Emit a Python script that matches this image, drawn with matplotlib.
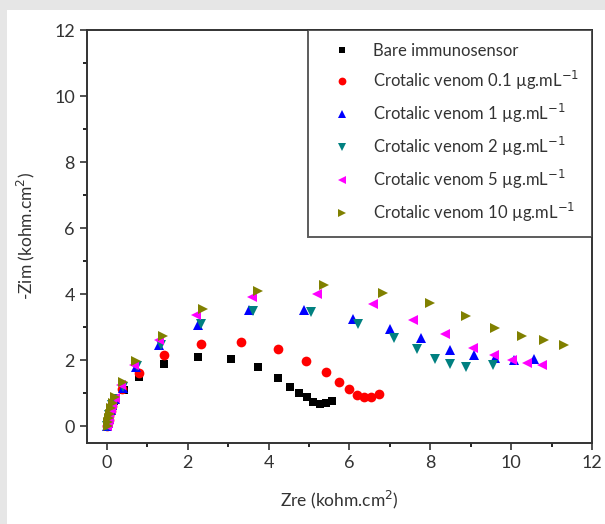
import matplotlib
matplotlib.use('Agg')
import matplotlib.pyplot as plt
from matplotlib.patches import Rectangle
from matplotlib.ticker import MultipleLocator

plt.rcParams['font.family'] = ['Lato', 'DejaVu Sans']
plt.rcParams['mathtext.fontset'] = 'dejavusans'

# Nyquist data (kohm.cm2)
bare_x = [0.01, 0.02, 0.04, 0.06, 0.09, 0.13, 0.18, 0.43, 0.80, 1.42, 2.25, 3.08, 3.75,
          4.23, 4.54, 4.75, 4.94, 5.10, 5.27, 5.42, 5.58]
bare_y = [0.00, 0.08, 0.18, 0.30, 0.45, 0.60, 0.78, 1.09, 1.50, 1.90, 2.10, 2.04, 1.79,
          1.46, 1.19, 1.02, 0.89, 0.75, 0.67, 0.69, 0.77]

v01_x = [0.01, 0.02, 0.04, 0.06, 0.09, 0.13, 0.18, 0.38, 0.80, 1.42, 2.33, 3.32, 4.23,
         4.92, 5.42, 5.74, 6.00, 6.19, 6.37, 6.54, 6.74]
v01_y = [0.00, 0.09, 0.20, 0.32, 0.47, 0.62, 0.80, 1.12, 1.60, 2.15, 2.49, 2.55, 2.33,
         1.97, 1.63, 1.34, 1.12, 0.96, 0.89, 0.89, 0.97]

v1_x = [0.01, 0.02, 0.04, 0.06, 0.09, 0.13, 0.19, 0.40, 0.72, 1.30, 2.25, 3.51, 4.87,
        6.10, 7.00, 7.77, 8.48, 9.07, 9.59, 10.08, 10.56]
v1_y = [0.00, 0.10, 0.21, 0.33, 0.48, 0.64, 0.82, 1.15, 1.80, 2.45, 3.08, 3.52, 3.52,
        3.26, 2.96, 2.66, 2.30, 2.15, 2.07, 2.02, 2.05]

v2_x = [0.01, 0.02, 0.04, 0.06, 0.09, 0.13, 0.19, 0.41, 0.75, 1.34, 2.33, 3.61, 5.04,
        6.22, 7.10, 7.68, 8.12, 8.48, 8.89, 9.55]
v2_y = [0.00, 0.10, 0.22, 0.34, 0.49, 0.65, 0.83, 1.18, 1.82, 2.45, 3.11, 3.49, 3.46,
        3.11, 2.66, 2.35, 2.05, 1.88, 1.80, 1.85]

v5_x = [0.01, 0.02, 0.04, 0.06, 0.09, 0.13, 0.19, 0.35, 0.68, 1.30, 2.20, 3.60, 5.20,
        6.58, 7.58, 8.37, 9.06, 9.57, 10.02, 10.40, 10.77]
v5_y = [0.00, 0.11, 0.23, 0.36, 0.51, 0.68, 0.86, 1.25, 1.85, 2.60, 3.38, 3.92, 4.02,
        3.69, 3.23, 2.79, 2.38, 2.17, 2.02, 1.92, 1.87]

v10_x = [0.02, 0.03, 0.05, 0.07, 0.10, 0.14, 0.20, 0.39, 0.72, 1.38, 2.37, 3.74, 5.37,
         6.84, 8.00, 8.89, 9.59, 10.26, 10.81, 11.31]
v10_y = [0.00, 0.12, 0.25, 0.38, 0.54, 0.71, 0.89, 1.34, 1.98, 2.73, 3.54, 4.10, 4.27,
         4.05, 3.72, 3.33, 2.98, 2.74, 2.61, 2.45]

series = [
    (bare_x, bare_y, 's', 'black', 6, 'Bare immunosensor'),
    (v01_x, v01_y, 'o', '#ff0000', 7, 'Crotalic venom 0.1 µg.mL$^{-1}$'),
    (v1_x, v1_y, '^', '#0000ff', 7.5, 'Crotalic venom 1 µg.mL$^{-1}$'),
    (v2_x, v2_y, 'v', '#008080', 7.5, 'Crotalic venom 2 µg.mL$^{-1}$'),
    (v5_x, v5_y, '<', '#ff00ff', 7.5, 'Crotalic venom 5 µg.mL$^{-1}$'),
    (v10_x, v10_y, '>', '#808000', 7.5, 'Crotalic venom 10 µg.mL$^{-1}$'),
]

fig = plt.figure(figsize=(6.05, 5.24), dpi=100)
fig.patch.set_facecolor('#e6e6e6')
fig.patches.append(Rectangle((7 / 605, 0), 1, (524 - 10) / 524, transform=fig.transFigure,
                             facecolor='white', edgecolor='none', zorder=-5))

ax = fig.add_axes([0.1433, 0.155, 0.8352, 0.7877])
ax.set_zorder(2)
for x, y, m, c, ms, lab in series:
    ax.plot(x, y, linestyle='none', marker=m, color=c, markersize=ms,
            markeredgewidth=0, label=lab)

ax.set_xlim(-0.5, 12)
ax.set_ylim(-0.5, 12)
ax.xaxis.set_major_locator(MultipleLocator(2))
ax.xaxis.set_minor_locator(MultipleLocator(1))
ax.yaxis.set_major_locator(MultipleLocator(2))
ax.yaxis.set_minor_locator(MultipleLocator(1))
ax.tick_params(which='major', direction='out', length=5, width=1.2, labelsize=13,
               colors='#333333', top=False, right=False)
ax.tick_params(which='minor', direction='out', length=3, width=1.2, top=False, right=False)
for sp in ax.spines.values():
    sp.set_linewidth(1.4)
    sp.set_color('#333333')

ax.set_xlabel('Zre (kohm.cm$^2$)', fontsize=12.5, color='#333333', labelpad=13)
ax.set_ylabel('-Zim (kohm.cm$^2$)', fontsize=12.5, color='#333333', labelpad=12)

leg = ax.legend(loc='upper right', fontsize=12, frameon=True, fancybox=False,
                borderaxespad=0, handletextpad=0.55, labelspacing=0.6,
                borderpad=0.75, handlelength=2.6, markerscale=0.8)
leg.get_frame().set_edgecolor('#333333')
leg.get_frame().set_linewidth(1.4)
for t in leg.get_texts():
    t.set_color('#333333')

fig.savefig('out.png', dpi=100, facecolor=fig.get_facecolor())
